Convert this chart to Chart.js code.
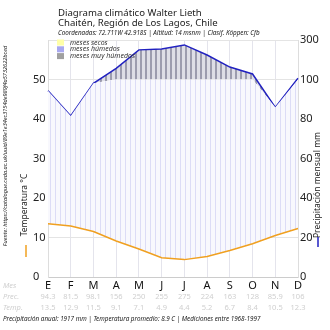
<!DOCTYPE html>
<html>
<head>
<meta charset="utf-8">
<script src="https://cdn.jsdelivr.net/npm/chart.js@4.4.0/dist/chart.umd.min.js"></script>
<style>
  html, body { margin: 0; padding: 0; background: #fff; }
</style>
</head>
<body>
<canvas id="climate" width="330" height="330"></canvas>
<script>
const months = ['E', 'F', 'M', 'A', 'M', 'J', 'J', 'A', 'S', 'O', 'N', 'D'];
const precip = [94.3, 81.5, 98.1, 156, 250, 255, 275, 224, 163, 128, 85.9, 106];
const temp = [13.5, 12.9, 11.5, 9.1, 7.1, 4.9, 4.4, 5.2, 6.7, 8.4, 10.5, 12.3];
const precipText = ['94.3', '81.5', '98.1', '156', '250', '255', '275', '224', '163', '128', '85.9', '106'];
const tempText = ['13.5', '12.9', '11.5', '9.1', '7.1', '4.9', '4.4', '5.2', '6.7', '8.4', '10.5', '12.3'];
const precipTicks = ['0', '20', '40', '60', '80', '100', '300'];

const FONT = '"Noto Sans", "Open Sans", sans-serif';

// Walter-Lieth: 20 mm = 10 °C up to 100 mm, above that 200 mm = 10 °C
function scalePrecip(p) {
  return p <= 100 ? p / 2 : 50 + (p - 100) / 20;
}
const precipScaled = precip.map(scalePrecip);
const precipCapped = precip.map(p => scalePrecip(Math.min(p, 100)));

function stripes(bg, fg, w, lw) {
  const c = document.createElement('canvas');
  c.width = w; c.height = 4;
  const g = c.getContext('2d');
  g.fillStyle = bg; g.fillRect(0, 0, w, 4);
  g.fillStyle = fg; g.fillRect(0, 0, lw, 4);
  return g.createPattern(c, 'repeat');
}
const ctx = document.getElementById('climate').getContext('2d');
const bluePattern = stripes('#f8f8fd', '#dcdcf6', 5, 1);
const greyPattern = stripes('#dedee6', '#9c9cae', 5, 2);
const yellowPattern = stripes('#ffffff', '#f5f0a0', 5, 1);

const extras = {
  id: 'extras',
  afterDraw(chart) {
    const c = chart.ctx, xs = chart.scales.x;
    c.save();
    c.textAlign = 'left';
    c.textBaseline = 'middle';

    c.fillStyle = '#222';
    c.font = '9.6px ' + FONT;
    c.fillText('Diagrama climático Walter Lieth', 58, 13);
    c.fillText('Chaitén, Región de Los Lagos, Chile', 58, 23.5);
    c.font = 'italic 6.3px ' + FONT;
    c.fillText('Coordenadas: 72.711W 42.918S | Altitud: 14 msnm | Clasif. Köppen: Cfb', 58, 33.5);

    // legend
    const leg = [['#ffffa8', 'meses secos'], ['#a8a8f0', 'meses húmedos'], ['#a0a0a0', 'meses muy húmedos']];
    c.font = 'italic 7px ' + FONT;
    leg.forEach((l, i) => {
      const y = 42.5 + i * 6.8;
      c.fillStyle = l[0];
      c.fillRect(57, y - 3, 7, 6);
      c.fillStyle = '#333';
      c.fillText(l[1], 70, y);
    });

    // rotated labels
    c.textAlign = 'center';
    c.save();
    c.translate(5, 146);
    c.rotate(-Math.PI / 2);
    c.font = 'italic 5.6px ' + FONT;
    c.fillStyle = '#222';
    c.fillText('Fuente: https://catalogue.ceda.ac.uk/uuid/89e1e34ec3154de989f4a5732622bced', 0, 0);
    c.restore();

    c.save();
    c.translate(25, 205);
    c.rotate(-Math.PI / 2);
    c.font = '8.5px ' + FONT;
    c.fillStyle = '#222';
    c.fillText('Temperatura °C', 0, 0);
    c.restore();
    c.strokeStyle = '#f0a020'; c.lineWidth = 1.5;
    c.beginPath(); c.moveTo(26, 245); c.lineTo(26, 257); c.stroke();

    c.save();
    c.translate(318, 185);
    c.rotate(-Math.PI / 2);
    c.font = '8.5px ' + FONT;
    c.fillStyle = '#222';
    c.fillText('Precipitación mensual mm', 0, 0);
    c.restore();
    c.strokeStyle = '#2020c0';
    c.beginPath(); c.moveTo(318, 237); c.lineTo(318, 247); c.stroke();

    // table rows
    c.fillStyle = '#cfcfcf';
    c.textAlign = 'left';
    c.font = 'italic 7.5px ' + FONT;
    c.fillText('Mes', 3, 286);
    c.fillText('Prec.', 3, 297);
    c.fillText('Temp.', 3, 308);
    c.textAlign = 'center';
    c.font = '7.5px ' + FONT;
    months.forEach((m, i) => {
      const px = xs.getPixelForValue(i);
      c.fillText(precipText[i], px, 297);
      c.fillText(tempText[i], px, 308);
    });

    c.fillStyle = '#222';
    c.textAlign = 'left';
    c.font = 'italic 6.3px ' + FONT;
    c.fillText('Precipitación anual: 1917 mm | Temperatura promedio: 8.9 C | Mediciones entre 1968-1997', 3, 319);
    c.restore();
  }
};

new Chart(ctx, {
  type: 'line',
  data: {
    labels: months,
    datasets: [
      {
        label: 'Temperatura',
        data: temp,
        borderColor: '#f0a020',
        borderWidth: 1.5,
        pointRadius: 0,
        tension: 0,
        fill: false
      },
      {
        label: 'Precipitación hasta 100',
        data: precipCapped,
        borderWidth: 0,
        borderColor: 'transparent',
        pointRadius: 0,
        fill: { target: 0, above: bluePattern, below: yellowPattern }
      },
      {
        label: 'Precipitación',
        data: precipScaled,
        borderColor: '#2222c0',
        borderWidth: 1.5,
        pointRadius: 0,
        fill: { target: 1, above: greyPattern, below: 'transparent' }
      }
    ]
  },
  options: {
    responsive: false,
    devicePixelRatio: 1,
    animation: false,
    layout: { padding: { top: 40, left: 33, right: 0, bottom: 0 } },
    plugins: { legend: { display: false }, tooltip: { enabled: false } },
    scales: {
      x: {
        offset: false,
        grid: { color: '#e4e4ec', drawTicks: false },
        border: { color: '#cccccc' },
        ticks: { color: '#111', font: { family: FONT, size: 11 }, padding: 2, maxRotation: 0, autoSkip: false },
        afterFit: s => { s.height = 53; }
      },
      y: {
        position: 'left',
        min: 0, max: 60,
        grid: { color: '#e4e4e4', drawTicks: false },
        border: { color: '#dddddd' },
        ticks: {
          stepSize: 10, crossAlign: 'far', color: '#222',
          font: { family: FONT, size: 11 },
          callback: v => (v === 60 ? '' : v)
        },
        afterFit: s => { s.width = 15; }
      },
      y2: {
        position: 'right',
        min: 0, max: 60,
        grid: { display: false, drawTicks: false },
        border: { color: '#dddddd' },
        ticks: {
          stepSize: 10, padding: 2, color: '#222',
          font: { family: FONT, size: 11 },
          callback: (v, i) => precipTicks[i]
        },
        afterFit: s => { s.width = 32; }
      }
    }
  },
  plugins: [extras]
});
</script>
</body>
</html>
